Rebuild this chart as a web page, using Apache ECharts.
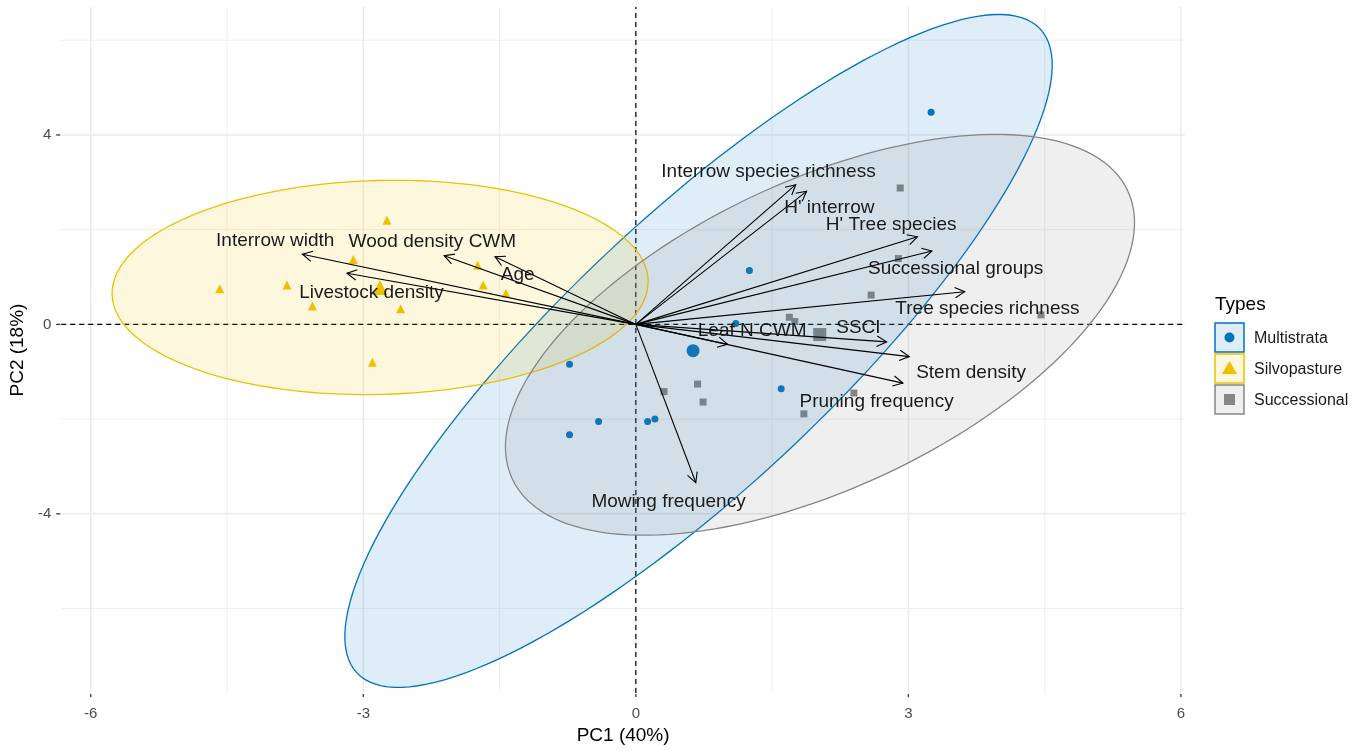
<!DOCTYPE html>
<html>
<head>
<meta charset="utf-8">
<script src="https://cdn.jsdelivr.net/npm/echarts@6/dist/echarts.min.js"></script>
<style>
  html, body { margin: 0; padding: 0; background: #fff; }
  #chart { width: 1369px; height: 750px; }
</style>
</head>
<body>
<div id="chart"></div>
<script>
// individuals (PC1 / PC2 scores) per farm type
const groupNames = ['Multistrata', 'Silvopasture', 'Successional'];
const multistrataPC1 = [-0.73, -0.41, -0.73, 0.13, 0.21, 1.60, 1.10, 1.25, 3.25];
const multistrataPC2 = [-0.84, -2.05, -2.33, -2.05, -2.00, -1.36, 0.02, 1.14, 4.48];
const silvopasturePC1 = [-2.74, -3.11, -1.74, -4.58, -3.84, -1.68, -1.43, -3.56, -2.59, -2.90];
const silvopasturePC2 = [2.20, 1.37, 1.25, 0.75, 0.83, 0.83, 0.66, 0.39, 0.33, -0.80];
const successionalPC1 = [2.91, 2.89, 2.59, 4.46, 1.69, 1.75, 0.31, 0.68, 0.74, 2.40, 1.85];
const successionalPC2 = [2.88, 1.39, 0.62, 0.20, 0.15, 0.06, -1.42, -1.26, -1.64, -1.45, -1.89];

// variable loadings (arrow tips)
const varNames = ['Interrow species richness', "H' interrow", "H' Tree species", 'Successional groups',
  'Tree species richness', 'SSCI', 'Leaf N CWM', 'Stem density', 'Pruning frequency', 'Mowing frequency',
  'Interrow width', 'Wood density CWM', 'Age', 'Livestock density'];
const varPC1 = [1.76, 1.88, 3.10, 3.26, 3.62, 2.76, 1.01, 3.01, 2.94, 0.66, -3.67, -2.11, -1.55, -3.18];
const varPC2 = [2.95, 2.81, 1.85, 1.55, 0.69, -0.37, -0.42, -0.68, -1.24, -3.34, 1.48, 1.45, 1.43, 1.08];
// where the (repelled) labels sit
const labelPC1 = [1.46, 2.13, 2.81, 3.52, 3.87, 2.45, 1.28, 3.69, 2.65, 0.36, -3.97, -2.24, -1.30, -2.91];
const labelPC2 = [3.22, 2.47, 2.10, 1.18, 0.32, -0.08, -0.14, -1.02, -1.63, -3.75, 1.77, 1.74, 1.05, 0.66];

// concentration ellipses: centre + two conjugate semi-axes
const ellipseCenter = [[0.69, -0.56], [-2.815, 0.78], [2.027, -0.22]];
const ellipseAxisA = [[3.76, 6.80], [2.95, 0.148], [3.387, 3.044]];
const ellipseAxisB = [[1.01, -2.06], [0.031, -2.258], [0.719, -2.941]];

// ticks
const xTicks = [-6, -3, 0, 3, 6];
const xMinor = [-4.5, -1.5, 1.5, 4.5];
const yTicks = [-4, 0, 4];
const yMinor = [-6, -2, 2, 6];

const X_MIN = -6.325, X_MAX = 6.045, Y_MIN = -7.786, Y_MAX = 6.702;
const colors = ['#0073C2', '#EFC000', '#868686'];
const fills = ['rgba(0,115,194,0.13)', 'rgba(239,192,0,0.13)', 'rgba(134,134,134,0.13)'];
const FONT = '"Liberation Sans", Arial, sans-serif';

const groupX = [multistrataPC1, silvopasturePC1, successionalPC1];
const groupY = [multistrataPC2, silvopasturePC2, successionalPC2];
const mean = arr => arr.reduce((s, v) => s + v, 0) / arr.length;
const zip = (xs, ys) => xs.map((x, i) => [x, ys[i]]);

const chart = echarts.init(document.getElementById('chart'));

function gridLines(values, vertical, width, color) {
  return {
    type: 'custom', silent: true, z: 0,
    data: values.map(v => [v, 0]),
    renderItem: function (params, api) {
      const v = api.value(0);
      const p0 = vertical ? api.coord([v, Y_MIN]) : api.coord([X_MIN, v]);
      const p1 = vertical ? api.coord([v, Y_MAX]) : api.coord([X_MAX, v]);
      return { type: 'line', shape: { x1: p0[0], y1: p0[1], x2: p1[0], y2: p1[1] },
        style: { stroke: color, lineWidth: width } };
    }
  };
}

// small ggplot-style tick marks outside the panel
function tickMarks(values, vertical) {
  return {
    type: 'custom', silent: true, z: 0, clip: false,
    data: values.map(v => [v, 0]),
    renderItem: function (params, api) {
      const v = api.value(0);
      const p = vertical ? api.coord([v, Y_MIN]) : api.coord([X_MIN, v]);
      const shape = vertical ? { x1: p[0], y1: p[1] + 1, x2: p[0], y2: p[1] + 4 }
                             : { x1: p[0] - 5, y1: p[1], x2: p[0] - 1, y2: p[1] };
      return { type: 'line', shape: shape, style: { stroke: '#333', lineWidth: 1.3 } };
    }
  };
}

function zeroLine(vertical) {
  return {
    type: 'custom', silent: true, z: 1,
    data: [[0, 0]],
    renderItem: function (params, api) {
      const p0 = vertical ? api.coord([0, Y_MIN]) : api.coord([X_MIN, 0]);
      const p1 = vertical ? api.coord([0, Y_MAX]) : api.coord([X_MAX, 0]);
      return { type: 'line', shape: { x1: p0[0], y1: p0[1], x2: p1[0], y2: p1[1] },
        style: { stroke: '#000', lineWidth: 1.2, lineDash: [5, 4] } };
    }
  };
}

function ellipseSeries(g) {
  return {
    type: 'custom', silent: true, z: 3,
    data: [ellipseCenter[g]],
    renderItem: function (params, api) {
      const c = ellipseCenter[g], a = ellipseAxisA[g], b = ellipseAxisB[g];
      const pts = [];
      for (let k = 0; k < 160; k++) {
        const t = 2 * Math.PI * k / 160;
        pts.push(api.coord([c[0] + a[0] * Math.cos(t) + b[0] * Math.sin(t),
                            c[1] + a[1] * Math.cos(t) + b[1] * Math.sin(t)]));
      }
      return { type: 'polygon', shape: { points: pts },
        style: { fill: fills[g], stroke: colors[g], lineWidth: 1.3 } };
    }
  };
}

const symbols = ['circle', 'triangle', 'rect'];
const smallSize = [7, 9, 7];
const bigSize = [13, 15, 13];

const series = [
  gridLines(xMinor, true, 1, '#EFEFEF'),
  gridLines(yMinor, false, 1, '#EFEFEF'),
  gridLines(xTicks, true, 1.4, '#EBEBEB'),
  gridLines(yTicks, false, 1.4, '#EBEBEB'),
  tickMarks(xTicks, true),
  tickMarks(yTicks, false),
  zeroLine(true),
  zeroLine(false)
];

groupNames.forEach((name, g) => {
  series.push({
    name: name, type: 'scatter', z: 2, silent: true,
    symbol: symbols[g], symbolSize: smallSize[g],
    itemStyle: { color: colors[g], opacity: 1 },
    data: zip(groupX[g], groupY[g])
  });
  series.push({
    name: name + ' mean', type: 'scatter', z: 2, silent: true,
    symbol: symbols[g], symbolSize: bigSize[g],
    itemStyle: { color: colors[g], opacity: 1 },
    data: [[mean(groupX[g]), mean(groupY[g])]]
  });
});
groupNames.forEach((name, g) => series.push(ellipseSeries(g)));

// arrows
series.push({
  type: 'custom', silent: true, z: 4,
  data: zip(varPC1, varPC2),
  renderItem: function (params, api) {
    const p0 = api.coord([0, 0]);
    const p1 = api.coord([api.value(0), api.value(1)]);
    const dx = p1[0] - p0[0], dy = p1[1] - p0[1];
    const len = Math.sqrt(dx * dx + dy * dy);
    const ux = dx / len, uy = dy / len;
    const L = 11, ang = 28 * Math.PI / 180;
    const head = s => [p1[0] - L * (ux * Math.cos(ang) - s * uy * Math.sin(ang)),
                       p1[1] - L * (uy * Math.cos(ang) + s * ux * Math.sin(ang))];
    const style = { stroke: '#000', lineWidth: 1.1, fill: null };
    return { type: 'group', children: [
      { type: 'line', shape: { x1: p0[0], y1: p0[1], x2: p1[0], y2: p1[1] }, style: style },
      { type: 'polyline', shape: { points: [head(1), p1, head(-1)] }, style: style }
    ] };
  }
});

// variable labels
series.push({
  type: 'custom', silent: true, z: 5,
  data: zip(labelPC1, labelPC2),
  renderItem: function (params, api) {
    const p = api.coord([api.value(0), api.value(1)]);
    return { type: 'text', x: p[0], y: p[1],
      style: { text: varNames[params.dataIndex], font: '19px ' + FONT, fill: '#1a1a1a',
        align: 'center', verticalAlign: 'middle' } };
  }
});

// legend drawn as ggplot-style keys
const legendGraphic = [
  { type: 'text', x: 1215, y: 305, style: { text: 'Types', font: '19px ' + FONT, fill: '#000', verticalAlign: 'middle' } }
];
groupNames.forEach((name, g) => {
  const top = 323 + g * 31;
  legendGraphic.push({ type: 'rect', shape: { x: 1215, y: top, width: 29, height: 29 },
    style: { fill: fills[g], stroke: colors[g], lineWidth: 1.5 } });
  let sym;
  if (g === 0) sym = { type: 'circle', shape: { cx: 1229.5, cy: top + 14.5, r: 5 }, style: { fill: colors[g] } };
  else if (g === 1) sym = { type: 'polygon', shape: { points: [[1229.5, top + 7], [1237, top + 20], [1222, top + 20]] }, style: { fill: colors[g] } };
  else sym = { type: 'rect', shape: { x: 1224, y: top + 9, width: 11, height: 11 }, style: { fill: colors[g] } };
  legendGraphic.push(sym);
  legendGraphic.push({ type: 'text', x: 1254, y: top + 15.5,
    style: { text: name, font: '16px ' + FONT, fill: '#1a1a1a', verticalAlign: 'middle' } });
});

chart.setOption({
  animation: false,
  backgroundColor: '#fff',
  grid: { left: 56, top: 7, width: 1129, height: 690, containLabel: false },
  xAxis: {
    type: 'value', min: X_MIN, max: X_MAX,
    name: 'PC1 (40%)', nameLocation: 'middle', nameGap: 26,
    nameTextStyle: { fontSize: 19, fontFamily: 'Liberation Sans', color: '#000' },
    axisLine: { show: false },
    axisTick: { show: false },
    axisLabel: { customValues: xTicks, fontSize: 15, fontFamily: 'Liberation Sans', color: '#4D4D4D', margin: 13 },
    splitLine: { show: false }
  },
  yAxis: {
    type: 'value', min: Y_MIN, max: Y_MAX,
    name: 'PC2 (18%)', nameLocation: 'middle', nameGap: 27,
    nameTextStyle: { fontSize: 19, fontFamily: 'Liberation Sans', color: '#000' },
    axisLine: { show: false },
    axisTick: { show: false },
    axisLabel: { customValues: yTicks, fontSize: 15, fontFamily: 'Liberation Sans', color: '#4D4D4D', margin: 10 },
    splitLine: { show: false }
  },
  graphic: legendGraphic,
  series: series
});
</script>
</body>
</html>
